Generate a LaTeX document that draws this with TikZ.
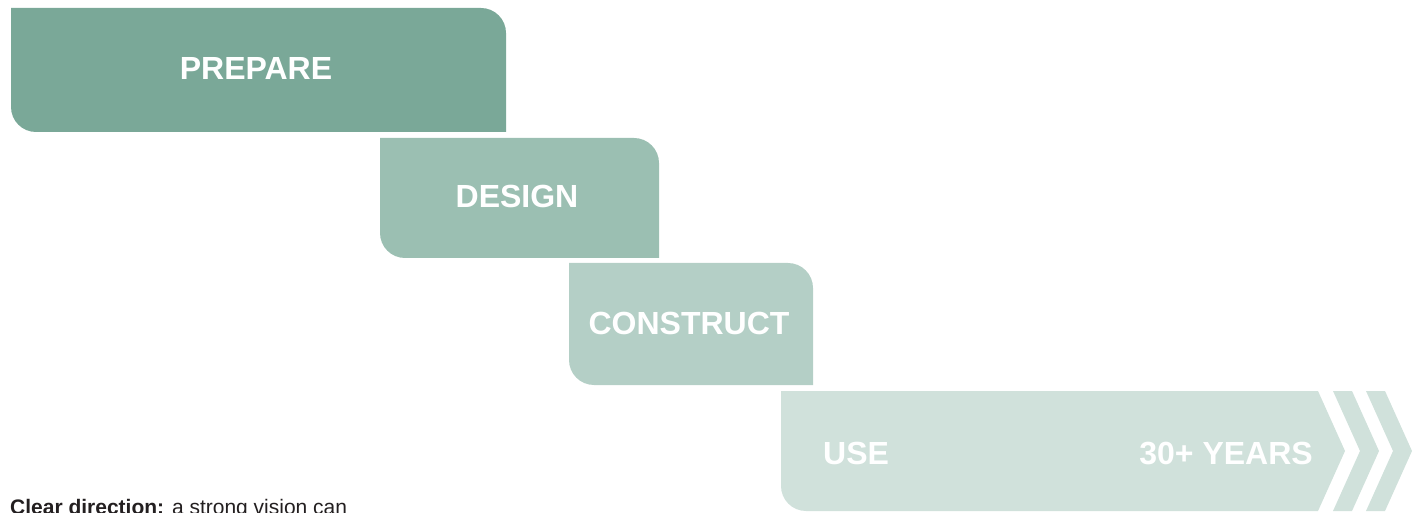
\documentclass[tikz,border=0pt]{standalone}
\usepackage{fontspec}
\setmainfont{Liberation Sans}
\usepackage{xcolor}
\usepackage{tikz}
\usetikzlibrary{positioning}
\definecolor{prepcol}{RGB}{122,168,152}
\definecolor{designcol}{RGB}{155,191,178}
\definecolor{buildcol}{RGB}{180,207,198}
\definecolor{usecol}{RGB}{208,225,219}
\definecolor{notecol}{RGB}{35,31,32}

\begin{document}
\begin{tikzpicture}[x=1pt,y=1pt,
        phase/.style={text=white,inner sep=0pt,font=\bfseries\fontsize{32}{38}\selectfont}]
        \useasboundingbox (0,0) rectangle (1419,512);
        % Phase boxes, stepping down
        \fill[prepcol] (11,504) -- (481,504) arc[start angle=90,end angle=0,radius=25] -- (506,380) -- (36,380) arc[start angle=270,end angle=180,radius=25] -- cycle;
        \fill[designcol] (380,374) -- (634,374) arc[start angle=90,end angle=0,radius=25] -- (659,254) -- (405,254) arc[start angle=270,end angle=180,radius=25] -- cycle;
        \fill[buildcol] (569,249) -- (788,249) arc[start angle=90,end angle=0,radius=25] -- (813,127) -- (594,127) arc[start angle=270,end angle=180,radius=25] -- cycle;
        % Use phase as an arrow with two chevrons
        \fill[usecol] (781,121) -- (1318,121) -- (1345,61) -- (1318,1) -- (806,1) arc[start angle=270,end angle=180,radius=25] -- cycle;
        \fill[usecol] (1333,121) -- (1352,121) -- (1379,61) -- (1352,1) -- (1333,1) -- (1360,61) -- cycle;
        \fill[usecol] (1366,121) -- (1385,121) -- (1412,61) -- (1385,1) -- (1366,1) -- (1393,61) -- cycle;
        % Labels
        \node[phase,anchor=base] (prepare) at (256,432) {PREPARE};
        \node[phase,anchor=base] (design) at (517,304) {DESIGN};
        \node[phase,anchor=base] (construct) at (689,178) {CONSTRUCT};
        \node[phase,anchor=base west] (use) at (823,48) {USE};
        \node[phase,anchor=base east] (years) at (1313,48) {30+ YEARS};
        \node[anchor=base west,inner sep=0pt,text=notecol,font=\fontsize{21}{25}\selectfont] (note) at (10,-2) {\textbf{Clear direction:} a strong vision can};
\end{tikzpicture}
\end{document}
